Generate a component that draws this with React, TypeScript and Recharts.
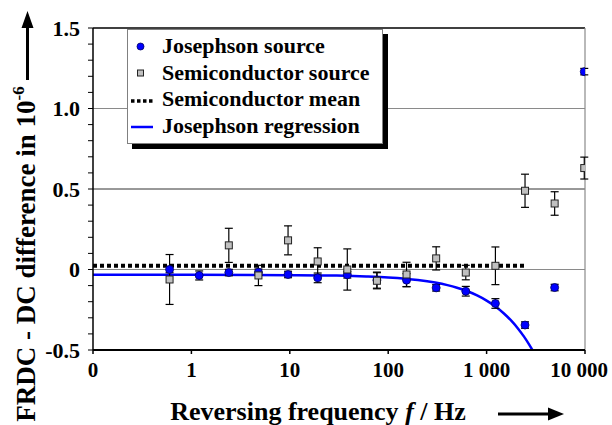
import React from 'react';
import {
  ComposedChart,
  XAxis,
  YAxis,
  Scatter,
  Line,
  ErrorBar,
  ReferenceLine,
  Legend,
} from 'recharts';

const FONT = '"Liberation Serif", "Times New Roman", serif';

// reversing frequencies in Hz; 0.1 Hz sits on the "0" tick of the log axis
const freqs = [0.6, 1.2, 2.4, 4.8, 9.6, 19.2, 38.4, 76.8, 153.6, 307.2, 614.4, 1228.8, 2457.6, 4915.2, 9830.4];
const josephson = [0.0, -0.037, -0.019, -0.017, -0.031, -0.052, -0.033, -0.066, -0.066, -0.114, -0.135, -0.211, -0.345, -0.112, 1.229];
const josephsonErr = [0.02, 0.028, 0.02, 0.02, 0.02, 0.03, 0.02, 0.05, 0.04, 0.02, 0.03, 0.03, 0.02, 0.02, 0.02];

// no semiconductor reading at 1.2 Hz
const semiFreqs = [0.6, 2.4, 4.8, 9.6, 19.2, 38.4, 76.8, 153.6, 307.2, 614.4, 1228.8, 2457.6, 4915.2, 9830.4];
const semi = [-0.062, 0.15, -0.037, 0.181, 0.05, 0.0, -0.07, -0.031, 0.069, -0.019, 0.023, 0.489, 0.41, 0.63];
const semiErr = [0.155, 0.106, 0.063, 0.09, 0.085, 0.128, 0.05, 0.076, 0.072, 0.045, 0.117, 0.103, 0.073, 0.068];

const semiMean = 0.023;
const meanFreqs = [0.1, 2457.6];

const fitFreqs = [0.1, 1, 10, 30, 60, 100, 150, 200, 300, 400, 500, 600, 800, 1000, 1200, 1500, 1800, 2100, 2400, 2700, 2920];
const fitValues = [-0.033, -0.033, -0.035, -0.038, -0.043, -0.049, -0.057, -0.065, -0.081, -0.097, -0.113, -0.129, -0.161, -0.193, -0.225, -0.273, -0.321, -0.369, -0.417, -0.465, -0.5];

const xTicks = [0.1, 1, 10, 100, 1000, 10000];
const xTickLabels = ['0', '1', '10', '100', '1 000', '10 000'];
const yTicks = [-0.5, -0.4, -0.3, -0.2, -0.1, 0, 0.1, 0.2, 0.3, 0.4, 0.5, 0.6, 0.7, 0.8, 0.9, 1, 1.1, 1.2, 1.3, 1.4, 1.5];
const yTickLabels: Record<string, string> = { '-0.5': '-0.5', '0': '0', '0.5': '0.5', '1': '1.0', '1.5': '1.5' };

const legendNames = ['Josephson source', 'Semiconductor source', 'Semiconductor mean', 'Josephson regression'];

const josephsonData = freqs.map((f, i) => ({ f, v: josephson[i], e: josephsonErr[i] }));
const semiData = semiFreqs.map((f, i) => ({ f, v: semi[i], e: semiErr[i] }));
const meanData = meanFreqs.map((f) => ({ f, v: semiMean }));
const fitData = fitFreqs.map((f, i) => ({ f, v: fitValues[i] }));

const BlueDot = (p: any) => (
  <circle cx={p.cx} cy={p.cy} r={4} fill="#0000ff" stroke="#000060" strokeWidth={0.8} />
);

const GraySquare = (p: any) => (
  <rect x={p.cx - 3.5} y={p.cy - 3.5} width={7} height={7} fill="#c0c0c0" stroke="#222" strokeWidth={1} />
);

const textStyle = { fontFamily: FONT, fontWeight: 'bold' as const, fill: '#000' };

// last label is pulled in a little so it stays inside the frame
const XTick = (p: any) => {
  const idx = xTicks.indexOf(p.payload.value);
  const shift = idx === xTicks.length - 1 ? -6 : 0;
  return (
    <text x={p.x + shift} y={p.y} dy="0.71em" textAnchor="middle" fontSize={21} {...textStyle}>
      {xTickLabels[idx] ?? ''}
    </text>
  );
};

const renderXTitle = () => (
  <g>
    <text x={318} y={420} textAnchor="middle" fontSize={26} {...textStyle}>
      Reversing frequency <tspan fontStyle="italic">f</tspan> / Hz
    </text>
    <line x1={498} y1={414} x2={550} y2={414} stroke="#000" strokeWidth={3} />
    <polygon points="564,414 548,407.5 548,420.5" fill="#000" />
  </g>
);

const renderYTitle = () => (
  <g>
    <text transform="translate(35,254) rotate(-90)" textAnchor="middle" fontSize={27} {...textStyle}>
      FRDC - DC difference in 10<tspan dy={-11} fontSize={17}>-6</tspan>
    </text>
    <line x1={27.5} y1={80} x2={27.5} y2={26} stroke="#000" strokeWidth={3} />
    <polygon points="27.5,11 21.5,28 33.5,28" fill="#000" />
  </g>
);

const renderLegend = () => (
  <svg width={262} height={121} style={{ display: 'block' }}>
    <rect x={5} y={5} width={256} height={115} fill="#000" />
    <rect x={0.5} y={0.5} width={255} height={114} fill="#fff" stroke="#808080" strokeWidth={1} />
    <circle cx={13.5} cy={17.5} r={3.5} fill="#0000ff" stroke="#000060" strokeWidth={0.8} />
    <rect x={10.5} y={41} width={6} height={6} fill="#c0c0c0" stroke="#222" strokeWidth={1} />
    <line x1={4} y1={72} x2={26} y2={72} stroke="#000" strokeWidth={3.5} strokeDasharray="3.5 2.5" />
    <line x1={4} y1={98} x2={26} y2={98} stroke="#0000ff" strokeWidth={2.5} />
    {legendNames.map((name, i) => (
      <text key={name} x={35} y={24 + i * 26.7} fontSize={22} {...textStyle}>
        {name}
      </text>
    ))}
  </svg>
);

export default function App() {
  return (
    <div style={{ position: 'absolute', left: 0, top: 0, background: '#fff' }}>
      <ComposedChart width={612} height={425} margin={{ top: 28, right: 27, bottom: 45, left: 0 }}>
        <XAxis
          dataKey="f"
          type="number"
          scale="log"
          domain={[0.1, 10000]}
          allowDataOverflow
          ticks={xTicks}
          interval={0}
          height={30}
          axisLine={{ stroke: '#000', strokeWidth: 2 }}
          tickLine={{ stroke: '#000', strokeWidth: 1.5 }}
          tickSize={4}
          tickMargin={8}
          tick={<XTick />}
          label={{ content: renderXTitle }}
        />
        <YAxis
          dataKey="v"
          type="number"
          domain={[-0.5, 1.5]}
          allowDataOverflow
          ticks={yTicks}
          interval={0}
          tickFormatter={(v: number) => yTickLabels[String(v)] ?? ''}
          width={93}
          axisLine={{ stroke: '#000', strokeWidth: 1.5 }}
          tickLine={{ stroke: '#000', strokeWidth: 1 }}
          tickSize={5}
          tickMargin={8}
          tick={{ fontSize: 22, ...textStyle }}
          label={{ content: renderYTitle }}
        />
        <ReferenceLine y={1} stroke="#8a8a8a" strokeWidth={1.2} />
        <ReferenceLine y={0.5} stroke="#333" strokeWidth={1} />
        <ReferenceLine y={0} stroke="#8a8a8a" strokeWidth={1.2} />
        <ReferenceLine y={1.5} stroke="#000" strokeWidth={1.5} />
        <ReferenceLine x={10000} stroke="#8a8a8a" strokeWidth={1.2} />
        <Line
          data={fitData}
          dataKey="v"
          type="monotone"
          stroke="#0000ff"
          strokeWidth={2.5}
          dot={false}
          activeDot={false}
          isAnimationActive={false}
        />
        <Line
          data={meanData}
          dataKey="v"
          type="linear"
          stroke="#000"
          strokeWidth={4}
          strokeDasharray="4 3"
          dot={false}
          activeDot={false}
          isAnimationActive={false}
        />
        <Scatter data={josephsonData} dataKey="v" shape={BlueDot} isAnimationActive={false}>
          <ErrorBar dataKey="e" direction="y" width={4} stroke="#000" strokeWidth={1.2} isAnimationActive={false} />
        </Scatter>
        <Scatter data={semiData} dataKey="v" shape={GraySquare} isAnimationActive={false}>
          <ErrorBar dataKey="e" direction="y" width={4} stroke="#000" strokeWidth={1.2} isAnimationActive={false} />
        </Scatter>
        <Legend
          layout="horizontal"
          verticalAlign="middle"
          align="center"
          content={renderLegend}
          wrapperStyle={{ left: 127, top: 29, width: 262, height: 121 }}
        />
      </ComposedChart>
    </div>
  );
}
